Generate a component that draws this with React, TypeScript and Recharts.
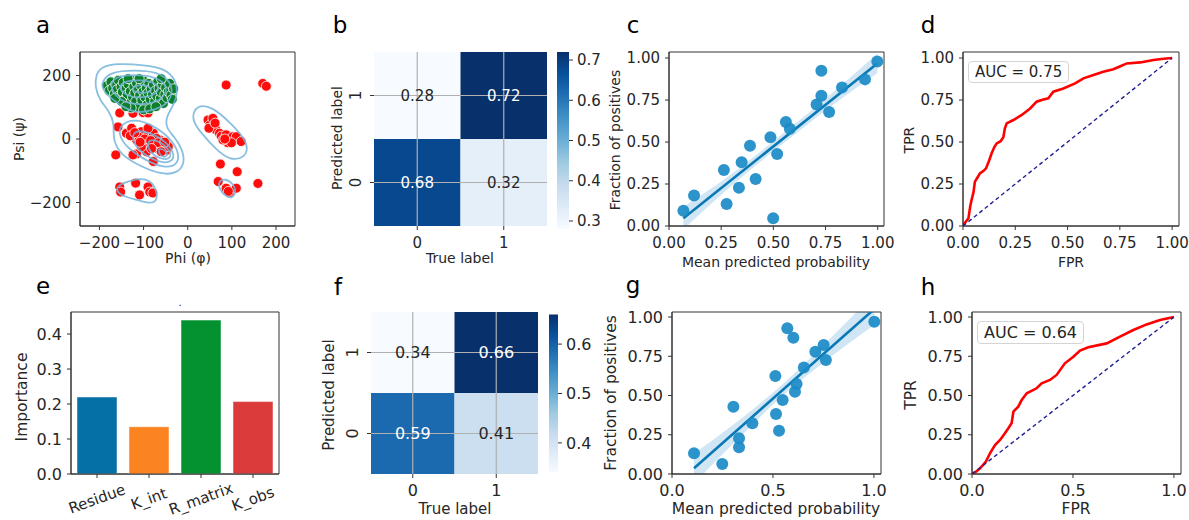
import React from 'react';
import {
  ComposedChart, ScatterChart, BarChart, Scatter, Line, Area, Bar, Cell,
  XAxis, YAxis, ReferenceArea, ReferenceLine, Legend,
} from 'recharts';

const FONT = '"DejaVu Sans", Verdana, sans-serif';
const INK = '#262626';
const SPINE = '#333333';

type P = [number, number];

// a: backbone dihedrals (phi, psi)
const greenPts: P[] = [
  [-183, 168], [-178, 152], [-174, 180], [-170, 160], [-166, 142], [-163, 172], [-160, 155], [-157, 185],
  [-154, 138], [-151, 165], [-148, 148], [-146, 178], [-143, 125], [-140, 158], [-137, 140], [-135, 172],
  [-132, 112], [-130, 150], [-127, 185], [-125, 132], [-122, 165], [-120, 145], [-118, 118], [-116, 176],
  [-113, 155], [-111, 100], [-109, 138], [-106, 168], [-104, 122], [-101, 150], [-99, 182], [-97, 132],
  [-94, 160], [-92, 108], [-90, 145], [-88, 175], [-85, 125], [-83, 158], [-80, 140], [-78, 170],
  [-75, 118], [-73, 152], [-70, 135], [-68, 180], [-65, 160], [-62, 128], [-60, 148], [-57, 172],
  [-55, 112], [-52, 140], [-50, 162], [-47, 130], [-44, 150], [-41, 175], [-38, 138], [-35, 125],
  [-32, 158], [-150, 118], [-165, 128], [-128, 98], [-100, 92], [-140, 102], [-86, 95], [-72, 102],
  [-110, 190], [-135, 190], [-60, 190],
];
const redPts: P[] = [
  [87, 170], [170, 175], [178, 166],
  [-154, 82], [-158, 38], [-163, -50], [-124, 81], [-101, 83], [-90, 82],
  [-139, 18], [-127, 34], [-116, -3], [-105, 23], [-101, -24], [-93, 7], [-86, -14], [-78, 18],
  [-71, -29], [-63, -3], [-56, -19], [-48, -35], [-44, -24], [-78, -71], [-116, -47], [-93, -40],
  [-124, -50], [-105, -24], [-71, 2], [-112, 7], [-90, 34], [-130, 10], [-120, 20], [-98, 0],
  [-84, -5], [-66, -12], [-60, -40], [-52, -10], [-108, -10], [-82, -30],
  [-154, -151], [-152, -167], [-118, -139], [-109, -176], [-90, -151], [-86, -167], [-79, -170],
  [46, 60], [50, 44], [57, 39], [65, 28], [72, 18], [76, 9], [87, 13], [95, -3], [102, 7],
  [110, 7], [121, -8], [91, -12], [57, 65], [48, 34], [80, -3], [99, -12], [84, 0], [62, 50],
  [74, -79], [112, -103], [69, -134], [87, -155], [95, -169], [110, -155], [159, -140], [92, -165],
];
const contourOuter: P[] = [
  [-208, 202], [-196, 228], [-158, 238], [-98, 233], [-53, 223], [-26, 186], [-23, 139], [-34, 102],
  [-49, 70], [-49, 34], [-30, 7], [-11, -35], [-7, -77], [-23, -108], [-60, -113], [-113, -82],
  [-151, -50], [-170, -3], [-166, 49], [-177, 86], [-200, 123], [-210, 165],
];
const contourTop1: P[] = [
  [-196, 180], [-174, 212], [-121, 217], [-68, 212], [-38, 180], [-34, 139], [-49, 107], [-79, 91],
  [-113, 81], [-143, 97], [-174, 128], [-192, 154],
];
const contourTop2: P[] = [
  [-177, 186], [-143, 202], [-98, 202], [-57, 186], [-45, 154], [-60, 123], [-98, 107], [-143, 112], [-170, 144],
];
const contourTop3: P[] = [
  [-151, 180], [-106, 188], [-68, 175], [-64, 149], [-94, 128], [-136, 133], [-155, 157],
];
const contourTop4: P[] = [[-121, 170], [-87, 170], [-79, 149], [-106, 144], [-128, 152]];
const contourMid1: P[] = [
  [-155, 44], [-121, 65], [-79, 44], [-38, 2], [-19, -45], [-23, -82], [-53, -92], [-98, -66], [-136, -29], [-155, 7],
];
const contourMid2: P[] = [
  [-125, 28], [-87, 23], [-49, -8], [-30, -45], [-34, -71], [-60, -77], [-98, -50], [-125, -14],
];
const contourMid3: P[] = [[-91, 2], [-60, -8], [-38, -40], [-39, -64], [-64, -64], [-91, -35]];
const contourMid4: P[] = [[-68, -24], [-45, -40], [-47, -58], [-64, -54]];
const contourLowLeft: P[] = [
  [-158, -145], [-136, -134], [-109, -124], [-87, -129], [-72, -155], [-68, -192], [-83, -205],
  [-113, -192], [-143, -182], [-162, -166],
];
const contourRight: P[] = [
  [12, 86], [27, 107], [54, 102], [95, 54], [129, 2], [137, -35], [125, -61], [95, -66], [65, -35], [31, 18], [12, 54],
];
const contourRightLow: P[] = [[69, -134], [84, -124], [103, -140], [110, -166], [101, -187], [88, -182], [72, -161]];
const contours = [
  contourOuter, contourTop1, contourTop2, contourTop3, contourTop4,
  contourMid1, contourMid2, contourMid3, contourMid4, contourLowLeft, contourRight, contourRightLow,
];

// b, f: confusion matrices as [true label, predicted label, value]
const confB: [number, number, number][] = [[0, 1, 0.28], [1, 1, 0.72], [0, 0, 0.68], [1, 0, 0.32]];
const confF: [number, number, number][] = [[0, 1, 0.34], [1, 1, 0.66], [0, 0, 0.59], [1, 0, 0.41]];
const cbTicksB = [0.3, 0.4, 0.5, 0.6, 0.7];
const cbTicksF = [0.4, 0.5, 0.6];

// c, g: calibration points, fitted line and its confidence band [x, lo, hi]
const calC: P[] = [
  [0.069, 0.091], [0.12, 0.181], [0.263, 0.333], [0.276, 0.131], [0.335, 0.228], [0.348, 0.379],
  [0.388, 0.478], [0.415, 0.28], [0.486, 0.528], [0.499, 0.046], [0.518, 0.429], [0.56, 0.619],
  [0.579, 0.579], [0.707, 0.724], [0.73, 0.925], [0.73, 0.776], [0.767, 0.679], [0.829, 0.825],
  [0.939, 0.873], [0.998, 0.98],
];
const fitC: P[] = [[0.069, 0.046], [0.998, 0.968]];
const bandC: [number, number, number][] = [
  [0.069, -0.02, 0.115], [0.3, 0.24, 0.31], [0.5, 0.445, 0.505], [0.7, 0.64, 0.705], [0.85, 0.78, 0.865], [0.998, 0.91, 1.025],
];
const calG: P[] = [
  [0.109, 0.132], [0.249, 0.064], [0.304, 0.429], [0.332, 0.227], [0.332, 0.17], [0.398, 0.323],
  [0.515, 0.382], [0.512, 0.624], [0.53, 0.276], [0.548, 0.471], [0.571, 0.928], [0.601, 0.868],
  [0.617, 0.573], [0.609, 0.524], [0.653, 0.679], [0.71, 0.779], [0.751, 0.822], [0.762, 0.726],
  [1.002, 0.97],
];
const fitG: P[] = [[0.109, 0.036], [1.002, 1.051]];
const bandG: [number, number, number][] = [
  [0.109, -0.06, 0.13], [0.3, 0.19, 0.31], [0.55, 0.5, 0.575], [0.75, 0.71, 0.82], [1.002, 0.95, 1.15],
];

// d, h: ROC curves (fpr, tpr)
const rocD: P[] = [
  [0, 0], [0.005, 0.012], [0.026, 0.046], [0.035, 0.12], [0.041, 0.155], [0.05, 0.2], [0.057, 0.264],
  [0.07, 0.29], [0.081, 0.313], [0.1, 0.33], [0.11, 0.343], [0.125, 0.39], [0.137, 0.433], [0.15, 0.47],
  [0.161, 0.492], [0.18, 0.505], [0.193, 0.528], [0.2, 0.58], [0.209, 0.611], [0.241, 0.631],
  [0.281, 0.661], [0.321, 0.7], [0.352, 0.74], [0.38, 0.752], [0.408, 0.76], [0.432, 0.8], [0.48, 0.819],
  [0.536, 0.849], [0.576, 0.879], [0.624, 0.899], [0.671, 0.919], [0.719, 0.933], [0.75, 0.95],
  [0.783, 0.968], [0.847, 0.974], [0.911, 0.988], [0.96, 0.996], [1, 1],
];
const rocH: P[] = [
  [0, 0], [0.02, 0.015], [0.04, 0.036], [0.069, 0.079], [0.089, 0.132], [0.114, 0.185], [0.139, 0.217],
  [0.163, 0.259], [0.18, 0.291], [0.196, 0.323], [0.205, 0.397], [0.229, 0.429], [0.246, 0.471],
  [0.271, 0.514], [0.32, 0.546], [0.345, 0.577], [0.386, 0.599], [0.419, 0.631], [0.46, 0.705],
  [0.502, 0.747], [0.535, 0.786], [0.576, 0.807], [0.667, 0.832], [0.733, 0.875], [0.799, 0.917],
  [0.865, 0.953], [0.931, 0.981], [1, 1],
];
const chance: P[] = [[0, 0], [1, 1]];

// e: feature importances
const features = ['Residue', 'K_int', 'R_matrix', 'K_obs'];
const importance = [0.22, 0.135, 0.44, 0.207];
const featureColors = ['#0570a6', '#fc8321', '#03922f', '#dc3b3b'];

// layout: plot boxes in page pixels
type Box = { L: number; T: number; W: number; H: number };
const PA: Box = { L: 80, T: 52, W: 215, H: 174 };
const PB: Box = { L: 374, T: 52, W: 173, H: 174 };
const PBc: Box = { L: 557, T: 52, W: 12, H: 174 };
const PC: Box = { L: 669, T: 52, W: 215, H: 174 };
const PD: Box = { L: 963, T: 52, W: 216, H: 174 };
const PE: Box = { L: 71, T: 312, W: 208, H: 162 };
const PF: Box = { L: 371, T: 312, W: 167, H: 162 };
const PFc: Box = { L: 549, T: 312, W: 9, H: 162 };
const PG: Box = { L: 672, T: 312, W: 209, H: 162 };
const PH: Box = { L: 972, T: 312, W: 209, H: 162 };

const OX = 70;
const OY = 10;
const MARGIN = { top: OY, right: 12, left: 0, bottom: 0 };
const pos = (b: Box) => ({ position: 'absolute' as const, left: b.L - OX, top: b.T - OY });
const dims = (b: Box) => ({ width: b.W + OX + 12, height: b.H + OY + 55, margin: MARGIN });
const at = (b: Box, px: number, py: number) => ({ tx: px - b.L + OX, ty: py - b.T + OY });

const xy = (arr: P[]) => arr.map(([x, y]) => ({ x, y }));
const minus = (v: number) => (v < 0 ? `\u2212${Math.abs(v)}` : `${v}`);
const fixed = (d: number) => (v: number) => v.toFixed(d);

const BLUES = ['#f7fbff', '#deebf7', '#c6dbef', '#9ecae1', '#6baed6', '#4292c6', '#2171b5', '#08519c', '#08306b'];
const hex = (c: string) => [1, 3, 5].map((i) => parseInt(c.slice(i, i + 2), 16));
function blues(t: number) {
  const s = Math.max(0, Math.min(1, t)) * 8;
  const i = Math.min(7, Math.floor(s));
  const f = s - i;
  const a = hex(BLUES[i]);
  const b = hex(BLUES[i + 1]);
  return `rgb(${a.map((v, k) => Math.round(v + (b[k] - v) * f)).join(',')})`;
}

const AxisTitle = ({ txt, tx, ty, vertical, fs }: any) => (
  <text x={tx} y={ty} transform={vertical ? `rotate(-90 ${tx} ${ty})` : undefined} textAnchor="middle"
    dominantBaseline="central" fill={INK} fontSize={fs} fontFamily={FONT}>{txt}</text>
);

const xAx = (fs: number) => ({
  type: 'number' as const, allowDataOverflow: true, height: 55, tickSize: 4, tickMargin: 7, interval: 0 as const,
  tick: { fill: INK, fontSize: fs, fontFamily: FONT }, tickLine: { stroke: SPINE }, axisLine: { stroke: SPINE },
});
const yAx = (fs: number) => ({
  type: 'number' as const, allowDataOverflow: true, width: OX, tickSize: 4, tickMargin: 5, interval: 0 as const,
  tick: { fill: INK, fontSize: fs, fontFamily: FONT }, tickLine: { stroke: SPINE }, axisLine: { stroke: SPINE },
});

const noDot = () => <g />;
const dot = (fill: string, r: number, edge: boolean) => (p: any) =>
  p.cx == null ? <g /> : (
    <circle cx={p.cx} cy={p.cy} r={r} fill={fill} fillOpacity={edge ? 1 : 0.92}
      stroke={edge ? '#ffffff' : 'none'} strokeWidth={0.8} />
  );

function Ramachandran() {
  const b = PA;
  return (
    <div style={pos(b)}>
      <ScatterChart {...dims(b)}>
        <XAxis dataKey="x" domain={[-244, 243]} ticks={[-200, -100, 0, 100, 200]} tickFormatter={minus} {...xAx(15)}
          label={<AxisTitle txt="Phi (φ)" fs={14} {...at(b, 188, 258)} />} />
        <YAxis dataKey="y" domain={[-274, 274]} ticks={[-200, 0, 200]} tickFormatter={minus} {...yAx(15)}
          label={<AxisTitle txt="Psi (ψ)" vertical fs={14} {...at(b, 19, 139)} />} />
        <Scatter data={xy(redPts)} shape={dot('#ff0d0d', 5, true)} isAnimationActive={false} />
        <Scatter data={xy(greenPts)} shape={dot('#0b7f29', 5, true)} isAnimationActive={false} />
        {contours.map((c, i) => (
          <Scatter key={i} data={xy(c)} fill="#74b4da" line={{ stroke: '#74b4da', strokeWidth: 1.8, strokeOpacity: 0.85 }}
            lineType="joint" lineJointType="basisClosed" shape={noDot} isAnimationActive={false} />
        ))}
        <ReferenceArea y1={-274} y2={274} fill="none" stroke={SPINE} strokeWidth={1} ifOverflow="visible" />
      </ScatterChart>
    </div>
  );
}

const RotTick = (p: any) => (
  <text transform={`translate(${p.x - 4},${p.y}) rotate(-90)`} textAnchor="middle" fill={INK}
    fontSize={p.fs} fontFamily={FONT}>{p.payload.value}</text>
);

function Confusion({ b, cb, cells, vmin, vmax, cbDomain, cbTicks, gid, fs, yT, xT }: any) {
  const centers = cells.map(([t, p]: number[]) => ({ x: t, y: p }));
  const mid = (vmin + vmax) / 2;
  return (
    <>
      <div style={pos(b)}>
        <ComposedChart {...dims(b)}>
          <XAxis dataKey="x" domain={[-0.5, 1.5]} ticks={[0, 1]} {...xAx(fs)} axisLine={false}
            label={<AxisTitle txt="True label" fs={fs - 1} {...at(b, xT[0], xT[1])} />} />
          <YAxis dataKey="y" domain={[-0.5, 1.5]} ticks={[0, 1]} {...yAx(fs)} axisLine={false} tick={<RotTick fs={fs} />}
            label={<AxisTitle txt="Predicted label" vertical fs={fs - 1} {...at(b, yT[0], yT[1])} />} />
          {cells.map(([t, p, v]: number[]) => (
            <ReferenceArea key={`${t}-${p}`} x1={t - 0.5} x2={t + 0.5} y1={p - 0.5} y2={p + 0.5}
              fill={blues((v - vmin) / (vmax - vmin))} fillOpacity={1} stroke="none" ifOverflow="visible"
              label={{ value: v.toFixed(2), position: 'center', fill: v > mid ? '#ffffff' : INK, fontSize: fs, fontFamily: FONT }} />
          ))}
          {[0, 1].map((k) => <ReferenceLine key={`vx${k}`} x={k} stroke="#b0b0b0" strokeWidth={1.2} />)}
          {[0, 1].map((k) => <ReferenceLine key={`hy${k}`} y={k} stroke="#b0b0b0" strokeWidth={1.2} />)}
          <Scatter data={centers} shape={noDot} isAnimationActive={false} />
        </ComposedChart>
      </div>
      <div style={{ position: 'absolute', left: cb.L - 2, top: cb.T - 10 }}>
        <ComposedChart width={cb.W + 2 + 45} height={cb.H + 20} margin={{ top: 10, right: 0, left: 2, bottom: 10 }}>
          <defs>
            <linearGradient id={gid} x1="0" y1="1" x2="0" y2="0">
              {BLUES.map((c, i) => <stop key={c} offset={`${(i / 8) * 100}%`} stopColor={c} />)}
            </linearGradient>
          </defs>
          <XAxis dataKey="x" type="number" domain={[0, 1]} hide />
          <YAxis dataKey="y" orientation="right" domain={cbDomain} ticks={cbTicks} tickFormatter={fixed(1)}
            {...yAx(fs)} width={45} tickMargin={4} axisLine={false} />
          <ReferenceArea y1={vmin} y2={vmax} fill={`url(#${gid})`} fillOpacity={1} stroke="none" ifOverflow="visible" />
          <Scatter data={[{ x: 0, y: vmin }, { x: 1, y: vmax }]} shape={noDot} isAnimationActive={false} />
        </ComposedChart>
      </div>
    </>
  );
}

function Calibration({ b, pts, fit, band, xMax, yMax, xTicks, xDigits, fs, tfs, yT, xT }: any) {
  const bandData = band.map(([x, lo, hi]: number[]) => ({ x, band: [lo, hi] }));
  return (
    <div style={pos(b)}>
      <ComposedChart {...dims(b)}>
        <XAxis dataKey="x" domain={[0, xMax]} ticks={xTicks} tickFormatter={fixed(xDigits)} {...xAx(fs)}
          label={<AxisTitle txt="Mean predicted probability" fs={tfs} {...at(b, xT[0], xT[1])} />} />
        <YAxis dataKey="y" domain={[0, yMax]} ticks={[0, 0.25, 0.5, 0.75, 1]} tickFormatter={fixed(2)} {...yAx(fs)}
          label={<AxisTitle txt="Fraction of positives" vertical fs={tfs} {...at(b, yT[0], yT[1])} />} />
        <Area data={bandData} dataKey="band" type="monotone" stroke="none" fill="#a9d2ec" fillOpacity={0.55}
          isAnimationActive={false} />
        <Line data={xy(fit)} dataKey="y" stroke="#0a78b5" strokeWidth={2.6} dot={false} isAnimationActive={false} />
        <Scatter data={xy(pts)} dataKey="y" shape={dot('#1a8bc7', 6, false)} isAnimationActive={false} />
        <ReferenceArea y1={0} y2={yMax} fill="none" stroke={SPINE} strokeWidth={1} ifOverflow="visible" />
      </ComposedChart>
    </div>
  );
}

function Roc({ b, roc, auc, xMax, yMax, xTicks, xDigits, fs, tfs, yT, xT }: any) {
  return (
    <div style={pos(b)}>
      <ComposedChart {...dims(b)}>
        <XAxis dataKey="x" domain={[0, xMax]} ticks={xTicks} tickFormatter={fixed(xDigits)} {...xAx(fs)}
          label={<AxisTitle txt="FPR" fs={tfs} {...at(b, xT[0], xT[1])} />} />
        <YAxis dataKey="y" domain={[0, yMax]} ticks={[0, 0.25, 0.5, 0.75, 1]} tickFormatter={fixed(2)} {...yAx(fs)}
          label={<AxisTitle txt="TPR" vertical fs={tfs} {...at(b, yT[0], yT[1])} />} />
        <Line data={xy(roc)} dataKey="y" stroke="#ff0000" strokeWidth={2.6} dot={false} isAnimationActive={false} />
        <Line data={xy(chance)} dataKey="y" stroke="#1f1f96" strokeWidth={1.4} strokeDasharray="4 3" dot={false}
          isAnimationActive={false} />
        <ReferenceArea y1={0} y2={yMax} fill="none" stroke={SPINE} strokeWidth={1} ifOverflow="visible" />
        <Legend layout="horizontal" verticalAlign="middle" align="center"
          wrapperStyle={{ left: OX + 5, top: OY + 9, width: 'auto', height: 'auto' }}
          content={() => (
            <div style={{
              display: 'inline-block', border: '1px solid #d4d4d4', borderRadius: 4, background: '#ffffff',
              padding: '1px 6px', fontFamily: FONT, fontSize: fs, color: INK, whiteSpace: 'nowrap',
            }}>
              {`AUC = ${auc}`}
            </div>
          )} />
      </ComposedChart>
    </div>
  );
}

const SlantTick = (p: any) => (
  <text transform={`translate(${p.x},${p.y + 14}) rotate(-20)`} textAnchor="middle" dominantBaseline="central"
    fill={INK} fontSize={15} fontFamily={FONT}>{p.payload.value}</text>
);

function Importance() {
  const b = PE;
  const data = features.map((name, i) => ({ name, value: importance[i] }));
  return (
    <div style={pos(b)}>
      <BarChart {...dims(b)} data={data} barSize={40}>
        <XAxis dataKey="name" type="category" height={55} tickSize={4} tickMargin={7} interval={0}
          tick={<SlantTick />} tickLine={{ stroke: SPINE }} axisLine={{ stroke: SPINE }} />
        <YAxis dataKey="value" domain={[0, 0.463]} ticks={[0, 0.1, 0.2, 0.3, 0.4]} tickFormatter={fixed(1)} {...yAx(16)}
          label={<AxisTitle txt="Importance" vertical fs={15.5} {...at(b, 22, 397)} />} />
        <Bar dataKey="value" stroke="#ffffff" strokeOpacity={0.6} strokeWidth={0.8} isAnimationActive={false}>
          {data.map((d, i) => <Cell key={d.name} fill={featureColors[i]} />)}
        </Bar>
        <ReferenceArea y1={0} y2={0.463} fill="none" stroke={SPINE} strokeWidth={1} ifOverflow="visible" />
      </BarChart>
    </div>
  );
}

const panelLetters: [string, number, number][] = [
  ['a', 43, 33], ['b', 340, 33], ['c', 633, 33], ['d', 928, 33],
  ['e', 43, 294], ['f', 338, 295], ['g', 633, 293], ['h', 928, 295],
];

export default function App() {
  return (
    <div style={{ position: 'absolute', left: 0, top: 0, width: 1189, height: 520, overflow: 'hidden', background: '#ffffff' }}>
      <Ramachandran />
      <Confusion b={PB} cb={PBc} cells={confB} vmin={0.28} vmax={0.72} cbDomain={[0.2875, 0.72]} cbTicks={cbTicksB}
        gid="cbB" fs={15} yT={[337, 138]} xT={[460, 258]} />
      <Calibration b={PC} pts={calC} fit={fitC} band={bandC} xMax={1.03} yMax={1.036}
        xTicks={[0, 0.25, 0.5, 0.75, 1]} xDigits={2} fs={15} tfs={14} yT={[615, 140]} xT={[776, 262]} />
      <Roc b={PD} roc={rocD} auc="0.75" xMax={1.033} yMax={1.036} xTicks={[0, 0.25, 0.5, 0.75, 1]} xDigits={2}
        fs={15} tfs={14} yT={[909, 140]} xT={[1071, 262]} />
      <Importance />
      <Confusion b={PF} cb={PFc} cells={confF} vmin={0.34} vmax={0.66} cbDomain={[0.337, 0.665]} cbTicks={cbTicksF}
        gid="cbF" fs={16} yT={[329, 395]} xT={[455, 509]} />
      <Calibration b={PG} pts={calG} fit={fitG} band={bandG} xMax={1.035} yMax={1.032}
        xTicks={[0, 0.5, 1]} xDigits={1} fs={16} tfs={15.5} yT={[611, 393]} xT={[776, 509]} />
      <Roc b={PH} roc={rocH} auc="0.64" xMax={1.035} yMax={1.032} xTicks={[0, 0.5, 1]} xDigits={1}
        fs={16} tfs={15.5} yT={[911, 395]} xT={[1076, 509]} />
      <svg width={1189} height={520} style={{ position: 'absolute', left: 0, top: 0, pointerEvents: 'none' }}>
        {panelLetters.map(([t, x, y]) => (
          <text key={t} x={x} y={y} textAnchor="middle" fontSize={23} fontFamily={FONT} fill="#000000">{t}</text>
        ))}
        <text x={180} y={306} textAnchor="middle" fontSize={10} fontFamily={FONT} fill={INK}>.</text>
      </svg>
    </div>
  );
}
